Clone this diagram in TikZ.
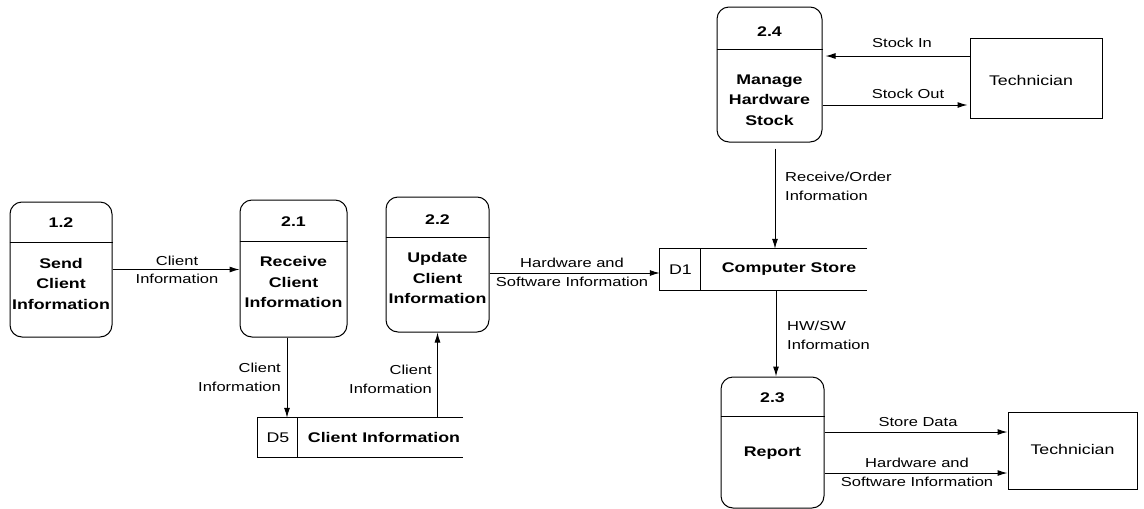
\documentclass[tikz,border=0pt]{standalone}
\usepackage{fontspec}
\setmainfont{Liberation Sans}[FakeStretch=1.27]
\usetikzlibrary{arrows.meta,calc}

\tikzset{
  proc/.style={draw, rounded corners=12pt, line width=1pt, inner sep=0pt},
  ent/.style={draw, line width=1pt, inner sep=0pt},
  storebox/.style={inner sep=0pt},
  pid/.style={font=\fontsize{14}{20}\selectfont\bfseries, inner sep=0pt},
  sid/.style={font=\fontsize{14}{20}\selectfont, inner sep=0pt},
  ptext/.style={font=\fontsize{14}{20.5}\selectfont\bfseries, align=center, inner sep=0pt},
  lab/.style={font=\fontsize{13}{19}\selectfont, align=center, inner sep=0pt},
  labr/.style={lab, align=right, anchor=east},
  labl/.style={lab, align=left, anchor=west},
  enttext/.style={font=\fontsize{14}{18}\selectfont, inner sep=0pt},
  flow/.style={line width=1pt, -{Latex[length=10pt,width=6pt]}},
  rule/.style={line width=1pt}
}

\begin{document}
\begin{tikzpicture}[x=1pt,y=-1pt]
\useasboundingbox (0,0) rectangle (1144,509);

% processes
\node[proc, minimum width=102pt, minimum height=135pt] (p12) at (61,269.5) {};
\draw[rule] ([yshift=-41pt]p12.north west) -- ([yshift=-41pt]p12.north east);
\node[pid] (p12id) at (61,223) {1.2};
\node[ptext] (p12t) at (61,283.5) {Send\\Client\\Information};

\node[proc, minimum width=107pt, minimum height=137pt] (p21) at (293.5,268.5) {};
\draw[rule] ([yshift=-42pt]p21.north west) -- ([yshift=-42pt]p21.north east);
\node[pid] (p21id) at (293.5,222) {2.1};
\node[ptext] (p21t) at (293.5,282) {Receive\\Client\\Information};

\node[proc, minimum width=103pt, minimum height=135pt] (p22) at (437.5,264.5) {};
\draw[rule] ([yshift=-41pt]p22.north west) -- ([yshift=-41pt]p22.north east);
\node[pid] (p22id) at (437.5,219.5) {2.2};
\node[ptext] (p22t) at (437.5,278) {Update\\Client\\Information};

\node[proc, minimum width=105pt, minimum height=135pt] (p24) at (769.5,74.5) {};
\draw[rule] ([yshift=-43pt]p24.north west) -- ([yshift=-43pt]p24.north east);
\node[pid] (p24id) at (769.5,31.5) {2.4};
\node[ptext] (p24t) at (769.5,100) {Manage\\Hardware\\Stock};

\node[proc, minimum width=103pt, minimum height=131pt] (p23) at (772.5,442.5) {};
\draw[rule] ([yshift=-40pt]p23.north west) -- ([yshift=-40pt]p23.north east);
\node[pid] (p23id) at (772.5,398) {2.3};
\node[ptext] (p23t) at (772.5,453) {Report};

% data stores
\node[storebox, minimum width=207pt, minimum height=41pt] (d1) at (763.5,269.5) {};
\draw[rule] (d1.north east) -- (d1.north west) -- (d1.south west) -- (d1.south east);
\draw[rule] ([xshift=41pt]d1.north west) -- ([xshift=41pt]d1.south west);
\node[sid] (d1id) at (680.5,269.5) {D1};
\node[pid] (d1t) at (789,269.5) {Computer Store};

\node[storebox, minimum width=205pt, minimum height=39pt] (d5) at (360.5,437.5) {};
\draw[rule] (d5.north east) -- (d5.north west) -- (d5.south west) -- (d5.south east);
\draw[rule] ([xshift=40pt]d5.north west) -- ([xshift=40pt]d5.south west);
\node[sid] (d5id) at (278,437.5) {D5};
\node[pid] (d5t) at (384,437.5) {Client Information};

% external entities
\node[ent, minimum width=132pt, minimum height=80pt] (t1) at (1036,78) {};
\node[enttext] (t1t) at (1031,80) {Technician};
\node[ent, minimum width=129pt, minimum height=77pt] (t2) at (1072.5,450.5) {};
\node[enttext] (t2t) at (1072.5,449) {Technician};

% flows
\draw[flow] (p12.east) -- (p12.east -| p21.west);
\node[lab] (l1) at (177,270) {Client\\[-0.5pt]Information};

\coordinate (a1) at ([yshift=-3.5pt]d1.west);
\draw[flow] (a1 -| p22.east) -- (a1);
\node[lab] (l2) at (572,272) {Hardware and\\Software Information};

\coordinate (a2) at ([xshift=-6.5pt]p21.south);
\draw[flow] (a2) -- (a2 |- d5.north);
\node[labr] (l3) at (281,377) {Client\\Information};

\draw[flow] (p22.south |- d5.north) -- (p22.south);
\node[labr] (l4) at (432,379) {Client\\Information};

\coordinate (a3) at ([xshift=5.5pt,yshift=-6pt]p24.south);
\draw[flow] (a3) -- (a3 |- d1.north);
\node[labl] (l5) at (785,186.5) {Receive/Order\\Information};

\coordinate (a4) at ([xshift=3.5pt]p23.north);
\draw[flow] (a4 |- d1.south) -- (a4);
\node[labl] (l6) at (787,335) {HW/SW\\Information};

\coordinate (a5) at ([yshift=22pt]t1.west);
\draw[flow] (a5) -- ([xshift=3pt]a5 -| p24.east);
\node[lab] (l7) at (902,43) {Stock In};

\coordinate (a6) at ([yshift=-27pt]t1.west);
\draw[flow] (a6 -| p24.east) -- ([xshift=-2pt]a6);
\node[lab] (l8) at (908,93.5) {Stock Out};

\coordinate (a7) at ([yshift=18.5pt]t2.west);
\draw[flow] (a7 -| p23.east) -- (a7);
\node[lab] (l9) at (918,422) {Store Data};

\coordinate (a8) at ([yshift=-22.5pt]t2.west);
\draw[flow] (a8 -| p23.east) -- (a8);
\node[lab] (l10) at (917,472.5) {Hardware and\\Software Information};
\end{tikzpicture}
\end{document}
